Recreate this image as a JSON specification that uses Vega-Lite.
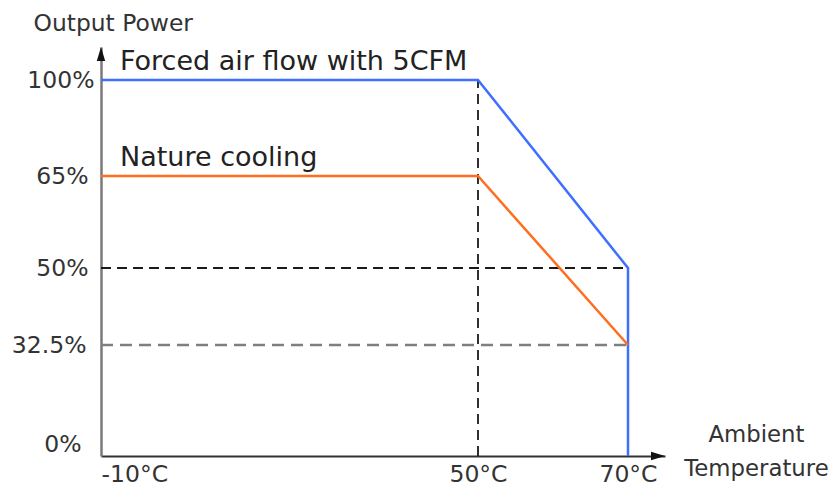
{
  "$schema": "https://vega.github.io/schema/vega-lite/v6.json",
  "width": 564,
  "height": 409,
  "autosize": {"type": "none"},
  "padding": {"left": 101, "top": 47, "right": 167, "bottom": 30},
  "background": "white",
  "config": {
    "view": {"stroke": null},
    "font": "DejaVu Sans"
  },
  "datasets": {
    "series": [
      {"series": "Forced air flow with 5CFM", "order": 1, "temp": -10, "power": 100},
      {"series": "Forced air flow with 5CFM", "order": 2, "temp": 50, "power": 100},
      {"series": "Forced air flow with 5CFM", "order": 3, "temp": 70, "power": 50},
      {"series": "Forced air flow with 5CFM", "order": 4, "temp": 70, "power": 0},
      {"series": "Nature cooling", "order": 1, "temp": -10, "power": 65},
      {"series": "Nature cooling", "order": 2, "temp": 50, "power": 65},
      {"series": "Nature cooling", "order": 3, "temp": 70, "power": 32.5}
    ],
    "blackGuides": [
      {"t1": 50, "t2": 50, "p1": 0, "p2": 100},
      {"t1": -10, "t2": 70, "p1": 50, "p2": 50}
    ],
    "grayGuides": [
      {"t1": -10, "t2": 70, "p1": 32.5, "p2": 32.5}
    ],
    "labels": [
      {"series": "Forced air flow with 5CFM", "temp": -10, "power": 100},
      {"series": "Nature cooling", "temp": -10, "power": 65}
    ],
    "yArrow": [{"temp": -10, "power": 112}],
    "xArrow": [{"temp": 75, "power": 0}]
  },
  "layer": [
    {
      "data": {"name": "blackGuides"},
      "mark": {"type": "rule", "color": "#1a1a1a", "strokeWidth": 1.8, "strokeDash": [10, 6]},
      "encoding": {
        "x": {"field": "t1", "type": "quantitative"},
        "x2": {"field": "t2"},
        "y": {"field": "p1", "type": "quantitative"},
        "y2": {"field": "p2"}
      }
    },
    {
      "data": {"name": "grayGuides"},
      "mark": {"type": "rule", "color": "#7f7f7f", "strokeWidth": 2.5, "strokeDash": [12, 7]},
      "encoding": {
        "x": {"field": "t1", "type": "quantitative"},
        "x2": {"field": "t2"},
        "y": {"field": "p1", "type": "quantitative"},
        "y2": {"field": "p2"}
      }
    },
    {
      "data": {"name": "series"},
      "mark": {"type": "line", "strokeWidth": 2.5},
      "encoding": {
        "x": {
          "field": "temp",
          "type": "quantitative",
          "scale": {"domain": [-10, 50, 70, 75], "range": [0, 377, 527, 564], "nice": false, "zero": false},
          "axis": {
            "values": [-10, 50, 70],
            "labelExpr": "datum.value + '°C'",
            "grid": false,
            "ticks": false,
            "labelFlush": true,
            "labelOverlap": false,
            "labelPadding": 6,
            "labelFont": "DejaVu Sans",
            "labelFontSize": 23.5,
            "labelColor": "#333333",
            "domainColor": "#333333",
            "domainWidth": 2,
            "title": ["Ambient", "Temperature"],
            "titleX": 655,
            "titleY": -15,
            "titleAlign": "center",
            "titleBaseline": "alphabetic",
            "titleLineHeight": 34,
            "titleFont": "DejaVu Sans",
            "titleFontSize": 22.8,
            "titleFontWeight": "normal",
            "titleColor": "#333333"
          }
        },
        "y": {
          "field": "power",
          "type": "quantitative",
          "scale": {"domain": [0, 32.5, 50, 65, 100, 112], "range": [409, 298, 221, 129, 33, 0], "nice": false, "zero": false},
          "axis": {
            "values": [0, 32.5, 50, 65, 100],
            "labelExpr": "datum.value + '%'",
            "grid": false,
            "ticks": false,
            "labelFlush": true,
            "labelOverlap": false,
            "labelPadding": {"expr": "datum.value == 100 ? 7 : datum.value == 0 ? 20 : datum.value == 32.5 ? 15 : 13"},
            "labelFont": "DejaVu Sans",
            "labelFontSize": 23.5,
            "labelColor": "#333333",
            "domainColor": "#7a7a7a",
            "domainWidth": 2.5,
            "title": "Output Power",
            "titleAngle": 0,
            "titleX": -68,
            "titleY": -17,
            "titleAlign": "left",
            "titleBaseline": "alphabetic",
            "titleFont": "DejaVu Sans",
            "titleFontSize": 23.4,
            "titleFontWeight": "normal",
            "titleColor": "#333333"
          }
        },
        "color": {
          "field": "series",
          "type": "nominal",
          "scale": {"domain": ["Forced air flow with 5CFM", "Nature cooling"], "range": ["#3f6fff", "#ff6e1e"]},
          "legend": null
        },
        "order": {"field": "order", "type": "quantitative"}
      }
    },
    {
      "data": {"name": "labels"},
      "mark": {"type": "text", "align": "left", "baseline": "alphabetic", "dx": 19, "dy": -10, "font": "DejaVu Sans", "fontSize": 27, "color": "#222222"},
      "encoding": {
        "x": {"field": "temp", "type": "quantitative"},
        "y": {"field": "power", "type": "quantitative"},
        "text": {"field": "series"}
      }
    },
    {
      "data": {"name": "yArrow"},
      "mark": {"type": "point", "shape": "M0,0L0.6,2L-0.6,2Z", "size": 196, "filled": true, "color": "#111111", "opacity": 1, "strokeWidth": 0},
      "encoding": {
        "x": {"field": "temp", "type": "quantitative"},
        "y": {"field": "power", "type": "quantitative"}
      }
    },
    {
      "data": {"name": "xArrow"},
      "mark": {"type": "point", "shape": "M0,0L-2,-0.6L-2,0.6Z", "size": 196, "filled": true, "color": "#111111", "opacity": 1, "strokeWidth": 0},
      "encoding": {
        "x": {"field": "temp", "type": "quantitative"},
        "y": {"field": "power", "type": "quantitative"}
      }
    }
  ]
}
